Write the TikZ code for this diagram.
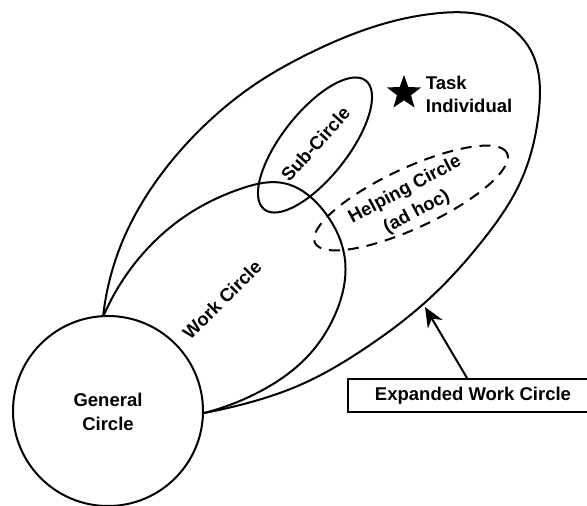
\documentclass[tikz,border=0pt]{standalone}
\usepackage{fontspec}
\setmainfont{Liberation Sans}
\usetikzlibrary{shapes.geometric,arrows.meta,hobby}
\begin{document}
\begin{tikzpicture}[x=1pt,y=-1pt,
  line/.style={line width=2pt},
  lab/.style={font=\fontsize{18.5}{24}\selectfont\bfseries, inner sep=0pt},
  ]
\useasboundingbox (0,0) rectangle (587,506);
% expanded work circle
\draw[line] (103,317) to[curve through={(123,240) .. (157,180) .. (207,123) .. (257,83) .. (310,53) .. (370,28) .. (440,13) .. (500,21) .. (533,55) .. (539,110) .. (519,185) .. (483,240) .. (430,298) .. (367,347) .. (300,385) .. (240,405)}] (204,413);
% work circle
\draw[line] (103,317) to[curve through={(140,257) .. (190,213) .. (243,188) .. (283,183) .. (323,210) .. (345,260) .. (337,310) .. (307,357) .. (257,393)}] (204,413);
% sub circle
\node[draw, line, ellipse, inner sep=0pt, minimum width=164pt, minimum height=66pt, rotate=51.7] (sub) at (315,145) {};
% helping circle
\node[draw, line, dash pattern=on 11pt off 8pt, ellipse, inner sep=0pt, minimum width=212pt, minimum height=60pt, rotate=25] (help) at (411,198) {};
% general circle
\node[draw, line, fill=white, circle, inner sep=0pt, minimum size=190pt] (gen) at (108,411) {};
\node[lab, anchor=base] (gen1) at (108,406.5) {General};
\node[lab, anchor=base] (gen2) at (108,430.7) {Circle};
% labels
\node[lab, rotate=45] (worklab) at (222,300) {Work Circle};
\node[lab, rotate=48] (sublab) at (315.5,144) {Sub-Circle};
\node[lab, rotate=28, align=center, font=\fontsize{18.5}{25}\selectfont\bfseries] (helplab) at (411,201) {Helping Circle\\(ad hoc)};
% star
\node[star, star points=5, star point ratio=2.45, fill=black, inner sep=0pt, minimum size=36pt] (star) at (404,93) {};
\node[lab, anchor=base west] (task1) at (425.7,89) {Task};
\node[lab, anchor=base west] (task2) at (425.7,112.7) {Individual};
% box and arrow
\node[draw, line, lab, minimum width=250pt, minimum height=33pt] (box) at (473,395.5) {Expanded Work Circle};
\coordinate (tip) at (425,307);
\draw[line, -{Stealth[length=20pt,width=17pt]}] ([xshift=-6pt]box.north) -- (tip);
\end{tikzpicture}
\end{document}
